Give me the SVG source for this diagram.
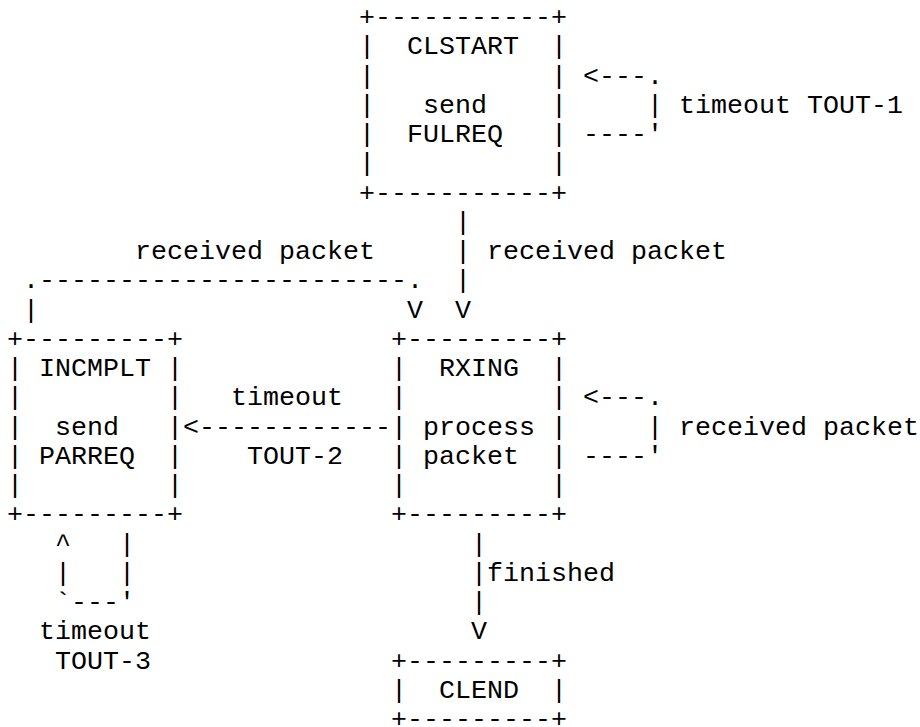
<svg xmlns="http://www.w3.org/2000/svg" width="920" height="727" viewBox="0 0 920 727">
<style>
text { font-family: "Liberation Mono", "Courier New", monospace; font-size: 26.667px; fill: #000; white-space: pre; }
</style>
<rect width="920" height="727" fill="#fff"/>
<g id="clstart">
<text x="359" y="25" xml:space="preserve">+-----------+</text>
<text x="359" y="54.25" xml:space="preserve">|  CLSTART  |</text>
<text x="359" y="83.5" xml:space="preserve">|           |</text>
<text x="359" y="112.75" xml:space="preserve">|   send    |</text>
<text x="359" y="142" xml:space="preserve">|  FULREQ   |</text>
<text x="359" y="171.25" xml:space="preserve">|           |</text>
<text x="359" y="200.5" xml:space="preserve">+-----------+</text>
</g>
<g id="incmplt">
<text x="7" y="346.75" xml:space="preserve">+---------+</text>
<text x="7" y="376" xml:space="preserve">| INCMPLT |</text>
<text x="7" y="405.25" xml:space="preserve">|         |</text>
<text x="7" y="434.5" xml:space="preserve">|  send   |</text>
<text x="7" y="463.75" xml:space="preserve">| PARREQ  |</text>
<text x="7" y="493" xml:space="preserve">|         |</text>
<text x="7" y="522.25" xml:space="preserve">+---------+</text>
</g>
<g id="rxing">
<text x="391" y="346.75" xml:space="preserve">+---------+</text>
<text x="391" y="376" xml:space="preserve">|  RXING  |</text>
<text x="391" y="405.25" xml:space="preserve">|         |</text>
<text x="391" y="434.5" xml:space="preserve">| process |</text>
<text x="391" y="463.75" xml:space="preserve">| packet  |</text>
<text x="391" y="493" xml:space="preserve">|         |</text>
<text x="391" y="522.25" xml:space="preserve">+---------+</text>
</g>
<g id="clend">
<text x="391" y="668.5" xml:space="preserve">+---------+</text>
<text x="391" y="697.75" xml:space="preserve">|  CLEND  |</text>
<text x="391" y="727" xml:space="preserve">+---------+</text>
</g>
<g id="connectors">
<text x="583" y="83.5" xml:space="preserve">&lt;---.</text>
<text x="647" y="112.75" xml:space="preserve">| timeout TOUT-1</text>
<text x="583" y="142" xml:space="preserve">----'</text>
<text x="455" y="229.75" xml:space="preserve">|</text>
<text x="135" y="259" xml:space="preserve">received packet</text>
<text x="455" y="259" xml:space="preserve">| received packet</text>
<text x="23" y="288.25" xml:space="preserve">.-----------------------.</text>
<text x="455" y="288.25" xml:space="preserve">|</text>
<text x="23" y="317.5" xml:space="preserve">|</text>
<text x="407" y="317.5" xml:space="preserve">V  V</text>
<text x="231" y="405.25" xml:space="preserve">timeout</text>
<text x="583" y="405.25" xml:space="preserve">&lt;---.</text>
<text x="183" y="434.5" xml:space="preserve">&lt;------------</text>
<text x="647" y="434.5" xml:space="preserve">| received packet</text>
<text x="247" y="463.75" xml:space="preserve">TOUT-2</text>
<text x="583" y="463.75" xml:space="preserve">----'</text>
<text x="55" y="551.5" xml:space="preserve">^   |</text>
<text x="471" y="551.5" xml:space="preserve">|</text>
<text x="55" y="580.75" xml:space="preserve">|   |</text>
<text x="471" y="580.75" xml:space="preserve">|finished</text>
<text x="55" y="610" xml:space="preserve">`---'</text>
<text x="471" y="610" xml:space="preserve">|</text>
<text x="39" y="639.25" xml:space="preserve">timeout</text>
<text x="471" y="639.25" xml:space="preserve">V</text>
<text x="55" y="668.5" xml:space="preserve">TOUT-3</text>
</g>
</svg>
